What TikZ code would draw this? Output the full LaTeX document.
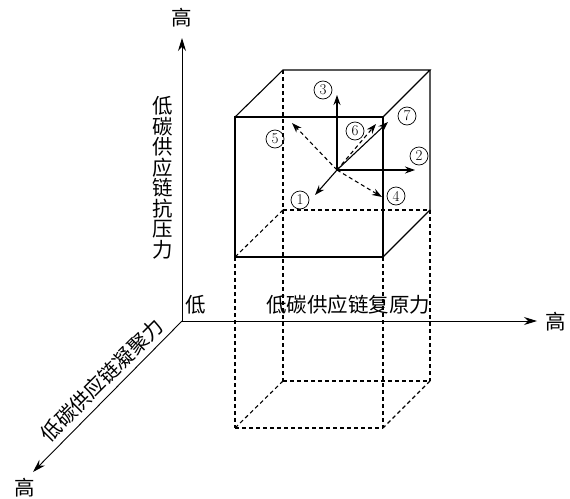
\documentclass[tikz,border=0pt]{standalone}
\usepackage{fontspec}
\newfontfamily\cjk{Noto Sans CJK SC}
\usetikzlibrary{arrows.meta}
\begin{document}
\begin{tikzpicture}[x=1pt,y=-1pt,
  axis/.style={line width=0.9pt, -{Stealth[length=13pt,width=8pt]}},
  edge/.style={line width=1.1pt},
  hid/.style={line width=1.1pt, dash pattern=on 4pt off 3pt},
  vec/.style={line width=1.1pt, -{Stealth[length=10pt,width=7pt]}},
  dvec/.style={vec, dash pattern=on 4pt off 3pt},
  circ/.style={draw, circle, line width=0.7pt, inner sep=0pt, minimum size=18pt, font=\fontsize{15}{15}\selectfont},
  lab/.style={font=\cjk\fontsize{20.5}{20.5}\selectfont, inner sep=0pt}]
\useasboundingbox (0,0) rectangle (570,498);
% axes
\coordinate (O) at (182,321);
\coordinate (Ytip) at (182,38);
\coordinate (Xtip) at (537,321);
\coordinate (Ztip) at (33,472);
\draw[axis] (O) -- (Ytip);
\draw[axis] (O) -- (Xtip);
\draw[axis] (O) -- (Ztip);
\node[lab] (yhi) at (182,18) {高};
\node[lab] (xhi) at (556,322) {高};
\node[lab] (zhi) at (25,488) {高};
\node[lab] (low) at (196,305) {低};
\node[lab, align=center] (ylab) at (163,178) {低\\碳\\供\\应\\链\\抗\\压\\力};
\node[lab] (xlab) at (348,305) {低碳供应链复原力};
\node[lab, rotate=45] (zlab) at (102,380) {低碳供应链凝聚力};
% cube corners
\coordinate (A) at (235,117);
\coordinate (B) at (383,117);
\coordinate (C) at (383,257);
\coordinate (D) at (235,257);
\coordinate (E) at (283,70);
\coordinate (F) at (430,70);
\coordinate (G) at (430,210);
\coordinate (H) at (283,210);
\coordinate (D2) at (235,428);
\coordinate (C2) at (383,428);
\coordinate (H2) at (283,381);
\coordinate (G2) at (430,381);
% solid edges
\draw[edge] (A) -- (B) -- (C) -- (D) -- cycle;
\draw[edge] (A) -- (E) -- (F) -- (B);
\draw[edge] (F) -- (G) -- (C);
% hidden edges
\draw[hid] (E) -- (H);
\draw[hid] (H) -- (G);
\draw[hid] (H) -- (D);
% lower box
\draw[hid] (D) -- (D2);
\draw[hid] (C) -- (C2);
\draw[hid] (H) -- (H2);
\draw[hid] (G) -- (G2);
\draw[hid] (D2) -- (C2);
\draw[hid] (H2) -- (G2);
\draw[hid] (H2) -- (D2);
\draw[hid] (G2) -- (C2);
% vectors
\coordinate (P) at (337,170);
\coordinate (t3) at (337,95);
\coordinate (t2) at (415,170);
\coordinate (t1) at (315,195);
\coordinate (t4) at (382,197);
\coordinate (t5) at (292,123);
\coordinate (t7) at (388,122);
\coordinate (t6) at (376,124);
\draw[vec] (P) -- (t3);
\draw[vec] (P) -- (t2);
\draw[vec] (P) -- (t1);
\draw[vec] (P) -- (t7);
\draw[dvec] (P) -- (t4);
\draw[dvec] (P) -- (t5);
\draw[dvec] (P) -- (t6);
\node[circ] (c3) at (323,90) {3};
\node[circ] (c2) at (419,156) {2};
\node[circ] (c1) at (300,200) {1};
\node[circ] (c4) at (396,196) {4};
\node[circ] (c5) at (275,139) {5};
\node[circ] (c6) at (355,131) {6};
\node[circ] (c7) at (407,116) {7};
\end{tikzpicture}
\end{document}
